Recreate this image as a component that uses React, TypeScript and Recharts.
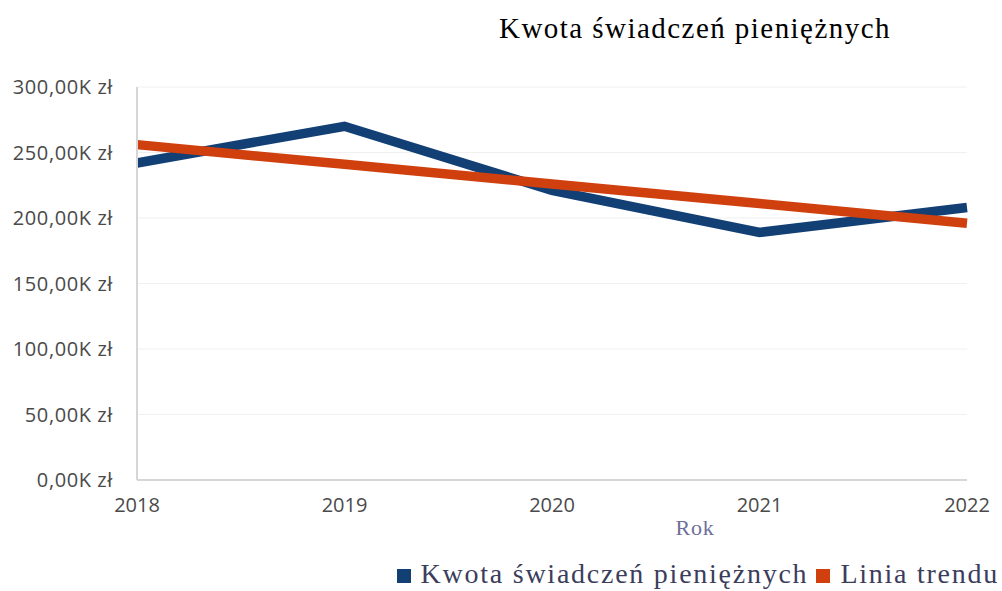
import React from 'react';
import { LineChart, Line, XAxis, YAxis, CartesianGrid } from 'recharts';

const years = ['2018', '2019', '2020', '2021', '2022'];
const amounts = [242000, 270000, 221000, 189000, 208000];
const trend = [256000, 241000, 226000, 211000, 196000];
const yTicks = [0, 50000, 100000, 150000, 200000, 250000, 300000];

const SERIES_NAME = 'Kwota świadczeń pieniężnych';
const TREND_NAME = 'Linia trendu';
const TITLE = 'Kwota świadczeń pieniężnych';
const X_LABEL = 'Rok';

const BLUE = '#123f74';
const ORANGE = '#d0400f';

const data = years.map((y, i) => ({ year: y, amount: amounts[i], trend: trend[i] }));
const legendItems = [
  { name: SERIES_NAME, color: BLUE },
  { name: TREND_NAME, color: ORANGE },
];

const fmt = (v: number) => (v / 1000).toFixed(2).replace('.', ',') + 'K zł';

const serif = '"Liberation Serif", "Times New Roman", serif';
const sans = '"Open Sans", "Noto Sans", sans-serif';

export default function App() {
  return (
    <div style={{ position: 'absolute', left: 0, top: 0, width: 1002, height: 591, background: '#fff', overflow: 'hidden' }}>
      <div style={{ position: 'absolute', left: 0, width: 1390, top: 11, textAlign: 'center', fontFamily: serif, fontSize: 29, letterSpacing: 1.45, color: '#000', whiteSpace: 'nowrap', lineHeight: '34px' }}>
        {TITLE}
      </div>
      <div style={{ position: 'absolute', left: 0, width: 1390, top: 515, textAlign: 'center', fontFamily: serif, fontSize: 22, letterSpacing: 0.8, color: '#6e6f9b', lineHeight: '26px' }}>
        {X_LABEL}
      </div>
      <div style={{ position: 'absolute', right: 3, top: 558, display: 'flex', alignItems: 'center', fontFamily: serif, fontSize: 28, letterSpacing: 1.75, color: '#3b3d5c', whiteSpace: 'nowrap', lineHeight: '32px' }}>
        {legendItems.map((p, i) => (
          <span key={i} style={{ display: 'inline-flex', alignItems: 'center', marginLeft: i === 0 ? 0 : 8 }}>
            <span style={{ display: 'inline-block', width: 14, height: 14, background: p.color, marginRight: 10, marginTop: 4 }} />
            {p.name}
          </span>
        ))}
      </div>
      <LineChart width={1002} height={591} data={data} margin={{ top: 87, right: 35, left: 0, bottom: 81 }}>
        <CartesianGrid vertical={false} stroke="#f0f0f0" />
        <XAxis
          dataKey="year"
          height={30}
          tickLine={false}
          tickSize={0}
          axisLine={{ stroke: '#d6d6d6', strokeWidth: 2 }}
          tick={{ fill: '#4a4a4a', fontSize: 20, fontFamily: sans }}
          tickMargin={18}
          interval={0}
          padding={{ left: 0, right: 0 }}
        />
        <YAxis
          width={137}
          domain={[0, 300000]}
          ticks={yTicks}
          tickFormatter={fmt}
          tickLine={false}
          tickSize={0}
          axisLine={{ stroke: '#d6d6d6', strokeWidth: 2 }}
          tick={{ fill: '#4a4a4a', fontSize: 20, fontFamily: sans, letterSpacing: 0.6 }}
          tickMargin={24}
        />
        <Line type="linear" dataKey="amount" name={SERIES_NAME} stroke={BLUE} strokeWidth={9.5} dot={false} activeDot={false} isAnimationActive={false} />
        <Line type="linear" dataKey="trend" name={TREND_NAME} stroke={ORANGE} strokeWidth={9.5} dot={false} activeDot={false} isAnimationActive={false} />
      </LineChart>
    </div>
  );
}
